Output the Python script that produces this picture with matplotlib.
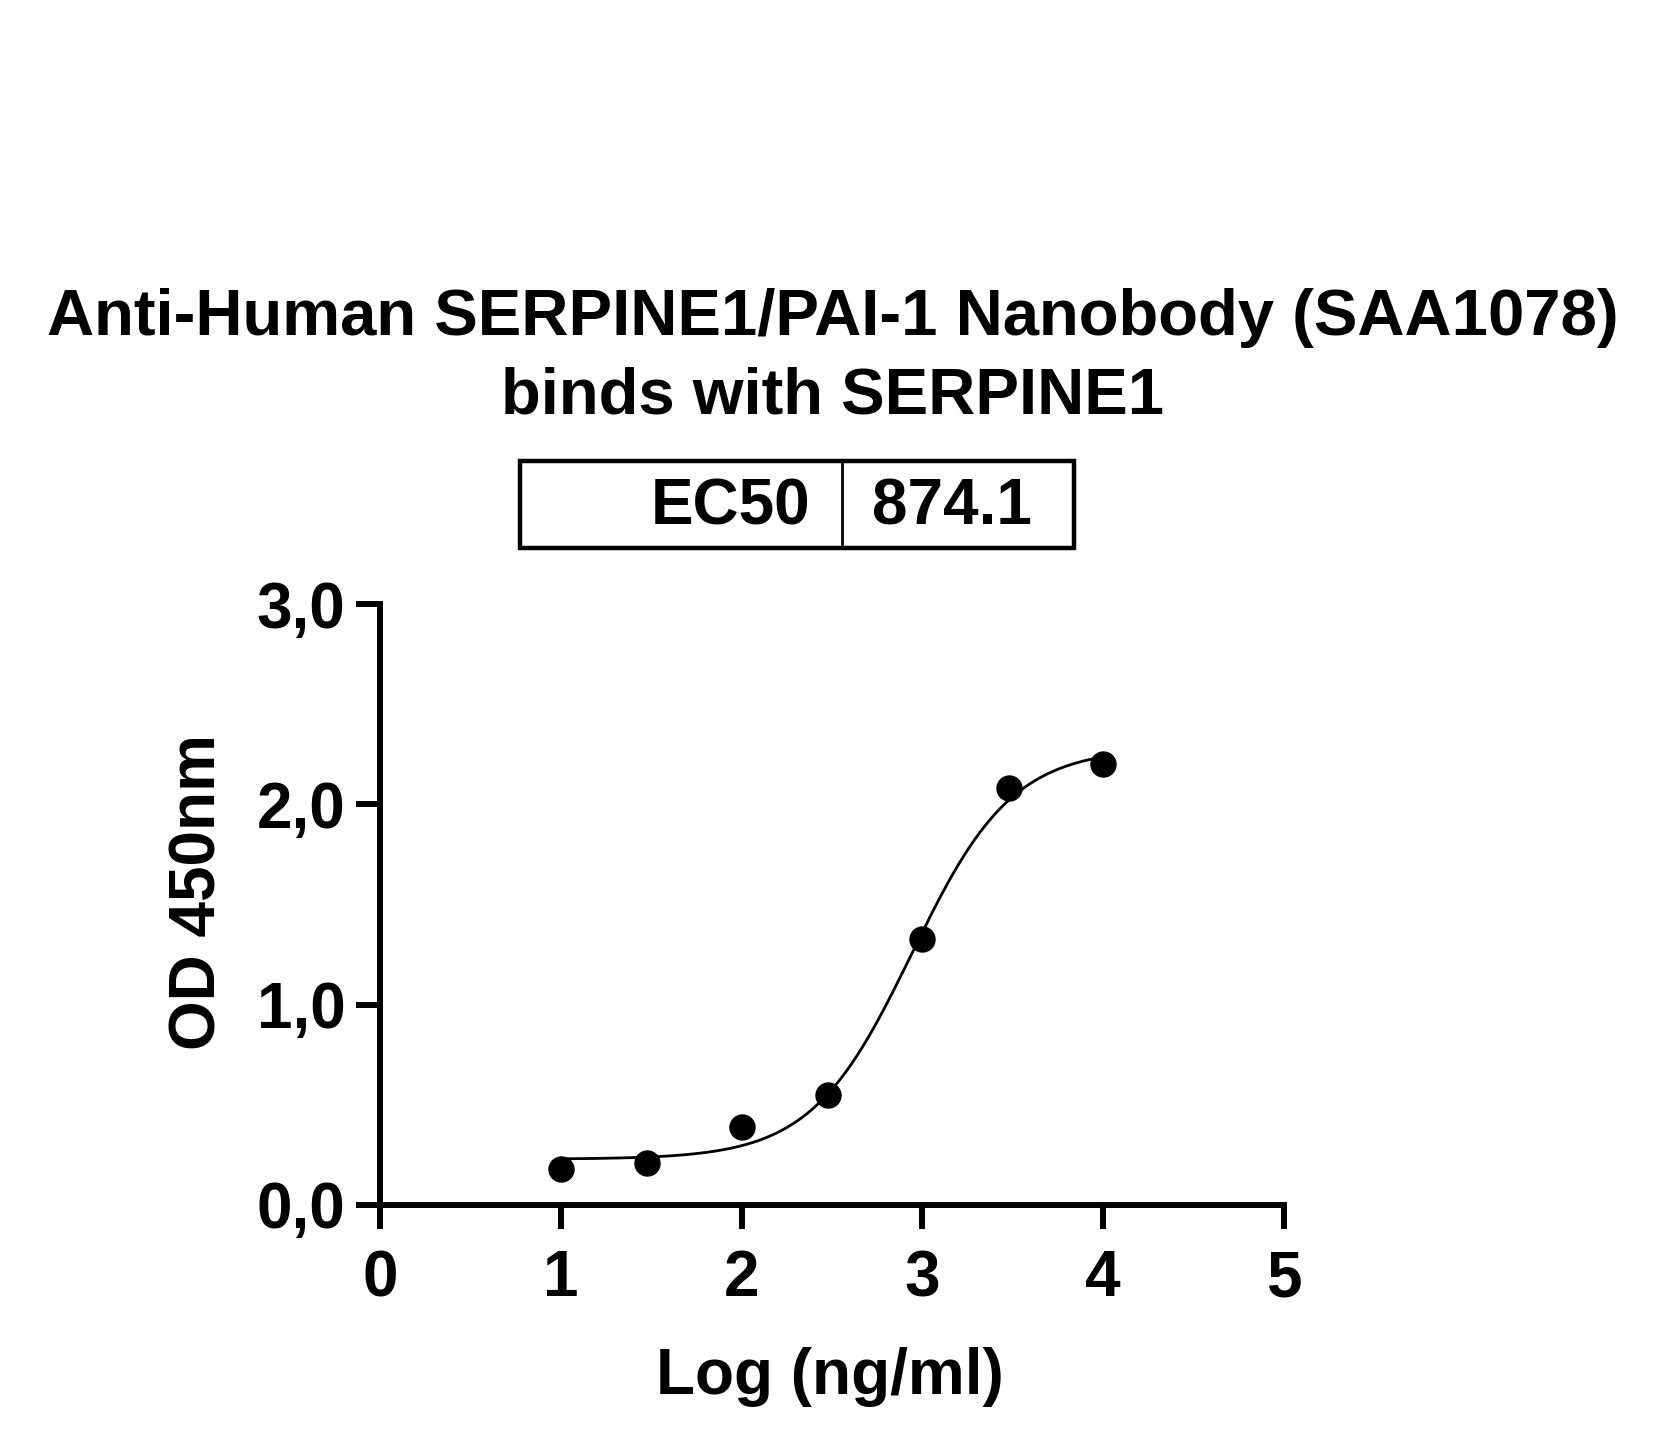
import numpy as np
import matplotlib
import matplotlib.pyplot as plt
from matplotlib.patches import Rectangle
from matplotlib.lines import Line2D
matplotlib.use('Agg')

plt.rcParams['font.family'] = ['Liberation Sans', 'DejaVu Sans']
plt.rcParams['font.weight'] = 'bold'

# ------------ data ------------ #
log_conc = [1.0, 1.477, 2.0, 2.477, 3.0, 3.477, 4.0]
od450 = [0.18, 0.21, 0.39, 0.55, 1.33, 2.08, 2.20]
ec50 = 874.1
xticks = [0, 1, 2, 3, 4, 5]
yticks = [0.0, 1.0, 2.0, 3.0]
title_lines = ["Anti-Human SERPINE1/PAI-1 Nanobody (SAA1078)", "binds with SERPINE1"]


def four_pl(x, bottom, top, log_ec50, hill):
    return bottom + (top - bottom) / (1 + 10 ** ((log_ec50 - x) * hill))


def fit_4pl(x, y, log_ec50):
    # EC50 fixed at the reported value; grid over hill, least squares for bottom/top
    x = np.asarray(x)
    y = np.asarray(y)
    best = None
    for hill in np.linspace(0.5, 3.0, 251):
        f = 1 / (1 + 10 ** ((log_ec50 - x) * hill))
        A = np.column_stack([1 - f, f])
        coef, _, _, _ = np.linalg.lstsq(A, y, rcond=None)
        err = np.sum((A @ coef - y) ** 2)
        if best is None or err < best[0]:
            best = (err, coef[0], coef[1], hill)
    return best[1], best[2], best[3]


log_ec50 = np.log10(ec50)
bottom, top, hill = fit_4pl(log_conc, od450, log_ec50)
xs = np.linspace(min(log_conc), max(log_conc), 300)

# ------------ figure ------------ #
W, H = 1660, 1451
fig = plt.figure(figsize=(W / 100, H / 100), dpi=100)
ax = fig.add_axes([380 / W, 1 - 1205 / H, (1284 - 380) / W, (1205 - 604) / H])

ax.plot(xs, four_pl(xs, bottom, top, log_ec50, hill), color='black', lw=2.0, zorder=2)
ax.plot(log_conc, od450, 'o', color='black', markersize=18, zorder=3)

ax.set_xlim(0, 5)
ax.set_ylim(0, 3)
ax.set_xticks(xticks)
ax.set_yticks(yticks)
ax.set_yticklabels([f"{v:.1f}".replace('.', ',') for v in yticks])
for s in ['top', 'right']:
    ax.spines[s].set_visible(False)
for s in ['left', 'bottom']:
    ax.spines[s].set_linewidth(4.3)
    ax.spines[s].set_capstyle('projecting')
ax.tick_params(axis='both', width=4.3, length=17, labelsize=46)
ax.tick_params(axis='y', pad=8)
ax.tick_params(axis='x', pad=15)
ax.patch.set_alpha(0)

# title
fig.text(833 / W, 1 - 335 / H, title_lines[0], ha='center', va='baseline', fontsize=47, fontweight='bold')
fig.text(833 / W, 1 - 413 / H, title_lines[1], ha='center', va='baseline', fontsize=47, fontweight='bold')

# EC50 box
fig.patches.append(Rectangle((520 / W, 1 - 548 / H), (1074 - 520) / W, (548 - 461) / H,
                             transform=fig.transFigure, fill=False, lw=3.2, edgecolor='black'))
fig.lines.append(Line2D([842 / W, 842 / W], [1 - 461 / H, 1 - 548 / H],
                        transform=fig.transFigure, color='black', lw=2))
fig.text(810 / W, 1 - 525 / H, "EC50", ha='right', va='baseline', fontsize=46, fontweight='bold')
fig.text(872 / W, 1 - 525 / H, f"{ec50:.1f}", ha='left', va='baseline', fontsize=46, fontweight='bold')

# axis labels
fig.text(830 / W, 1 - 1394 / H, "Log (ng/ml)", ha='center', va='baseline', fontsize=46, fontweight='bold')
fig.text(198 / W, 1 - 892 / H, "OD 450nm", ha='center', va='center', rotation=90, fontsize=46, fontweight='bold')

fig.savefig('out.png', dpi=100, facecolor='white')
